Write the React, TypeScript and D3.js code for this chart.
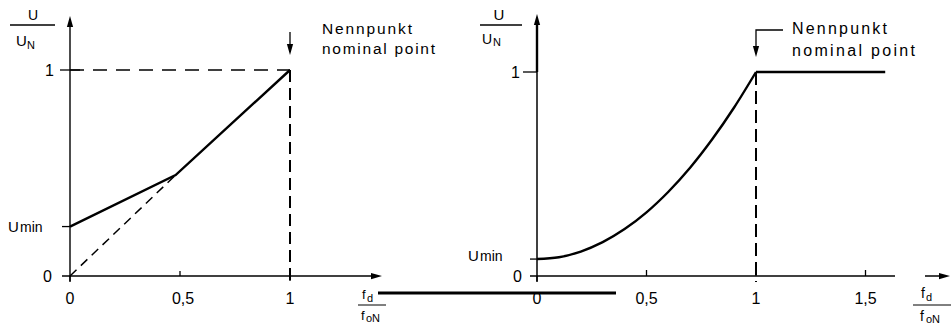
import React from "react";
import * as d3 from "d3";

// Left diagram: linear U/f characteristic with boost at low frequency
const leftF = [0, 0.48, 1];
const leftU = [0.24, 0.49, 1];
const leftRefF = [0, 0.48];
const leftRefU = [0, 0.49];
const leftTicksX = [0, 0.5, 1];
const leftTickLabelsX = ["0", "0,5", "1"];

// Right diagram: quadratic characteristic, then constant voltage above nominal point
const rightF = [0, 0.1, 0.2, 0.3, 0.4, 0.5, 0.6, 0.7, 0.8, 0.9, 1.0];
const rightU = [0.083, 0.092, 0.12, 0.166, 0.23, 0.312, 0.413, 0.532, 0.67, 0.826, 1.0];
const flatF = [1, 1.59];
const flatU = [1, 1];
const rightTicksX = [0, 0.5, 1, 1.5];
const rightTickLabelsX = ["0", "0,5", "1", "1,5"];

const font = "'Liberation Sans', Arial, sans-serif";

function Arrow({ x, y, dir }: { x: number; y: number; dir: "up" | "down" | "right" }) {
  const s = 5, l = 11;
  let pts = "";
  if (dir === "up") pts = `${x},${y} ${x - s / 1.6},${y + l} ${x + s / 1.6},${y + l}`;
  if (dir === "down") pts = `${x},${y} ${x - s / 1.6},${y - l} ${x + s / 1.6},${y - l}`;
  if (dir === "right") pts = `${x},${y} ${x - l},${y - s / 1.6} ${x - l},${y + s / 1.6}`;
  return <polygon points={pts} fill="#000" />;
}

export default function App() {
  const xL = d3.scaleLinear().domain([0, 1]).range([70, 290]);
  const yL = d3.scaleLinear().domain([0, 1]).range([276, 70]);
  const xR = d3.scaleLinear().domain([0, 1]).range([537, 756]);
  const yR = d3.scaleLinear().domain([0, 1]).range([276, 72]);

  const lineL = d3.line<number>().x((_, i) => xL(leftF[i])).y((d) => yL(d));
  const refL = d3.line<number>().x((_, i) => xL(leftRefF[i])).y((d) => yL(d));
  const curveR = d3
    .line<number>()
    .x((_, i) => xR(rightF[i]))
    .y((d) => yR(d))
    .curve(d3.curveCatmullRom);
  const flatR = d3.line<number>().x((_, i) => xR(flatF[i])).y((d) => yR(d));

  const txt = { fontFamily: font, fontSize: 14, fill: "#000" } as const;

  return (
    <svg
      width={951}
      height={325}
      style={{ position: "absolute", left: 0, top: 0, background: "#fff" }}
    >
      {/* ---------- left diagram ---------- */}
      <g>
        {/* y axis */}
        <line x1={xL(0)} y1={yL(0) + 6} x2={xL(0)} y2={22} stroke="#000" strokeWidth={1.4} />
        <Arrow x={xL(0)} y={16} dir="up" />
        {/* x axis */}
        <line x1={62} y1={yL(0)} x2={378} y2={yL(0)} stroke="#000" strokeWidth={1.3} />
        <Arrow x={382} y={yL(0)} dir="right" />
        {/* y ticks */}
        <line x1={60} y1={yL(1)} x2={80} y2={yL(1)} stroke="#000" strokeWidth={1.3} />
        <line x1={62} y1={yL(leftU[0])} x2={xL(0)} y2={yL(leftU[0])} stroke="#000" strokeWidth={1.3} />
        {leftTicksX.map((t, i) => (
          <g key={i}>
            <line x1={xL(t)} y1={yL(0)} x2={xL(t)} y2={yL(0) + (i === 1 ? -5 : 5)} stroke="#000" strokeWidth={1.3} />
            <text x={xL(t) + (i === 1 ? 3 : 0)} y={304} textAnchor="middle" {...txt} fontSize={16}>
              {leftTickLabelsX[i]}
            </text>
          </g>
        ))}
        {/* reference lines to nominal point */}
        <line x1={xL(0)} y1={yL(1)} x2={xL(1)} y2={yL(1)} stroke="#000" strokeWidth={1.5} strokeDasharray="14 9" />
        <line x1={xL(1)} y1={yL(1)} x2={xL(1)} y2={yL(0) + 6} stroke="#000" strokeWidth={2} strokeDasharray="12 6" />
        {/* nominal point marker */}
        <line x1={xL(1)} y1={32} x2={xL(1)} y2={52} stroke="#000" strokeWidth={1.3} />
        <Arrow x={xL(1)} y={55} dir="down" />
        {/* characteristic */}
        <path d={refL(leftRefU) ?? ""} fill="none" stroke="#000" strokeWidth={1.5} strokeDasharray="9 6" />
        <path d={lineL(leftU) ?? ""} fill="none" stroke="#000" strokeWidth={2.4} />
        {/* labels */}
        <text x={33} y={20} textAnchor="middle" {...txt}>U</text>
        <line x1={10} y1={25} x2={55} y2={25} stroke="#000" strokeWidth={1.3} />
        <text x={16} y={46} {...txt} fontSize={15}>U</text>
        <text x={27} y={49} {...txt} fontSize={11}>N</text>
        <text x={54} y={76} textAnchor="end" {...txt} fontSize={16}>1</text>
        <text x={8} y={232} {...txt} fontSize={15}>U</text>
        <text x={20} y={232} {...txt} fontSize={14}>min</text>
        <text x={52} y={282} textAnchor="end" {...txt} fontSize={16}>0</text>
        <text x={322} y={34} {...txt} fontSize={15.5} textLength={90}>Nennpunkt</text>
        <text x={322} y={54} {...txt} fontSize={15.5} textLength={113}>nominal point</text>
        <text x={362} y={299} {...txt} fontSize={13}>f</text>
        <text x={367} y={302} {...txt} fontSize={11}>d</text>
        <line x1={358} y1={305} x2={386} y2={305} stroke="#000" strokeWidth={1} />
        <text x={361} y={320} {...txt} fontSize={13}>f</text>
        <text x={366} y={322} {...txt} fontSize={11}>oN</text>
      </g>

      {/* stray rule between the diagrams */}
      <line x1={378} y1={293} x2={616} y2={293} stroke="#000" strokeWidth={3} />

      {/* ---------- right diagram ---------- */}
      <g>
        {/* y axis */}
        <line x1={xR(0)} y1={yR(0) + 6} x2={xR(0)} y2={22} stroke="#000" strokeWidth={1.5} />
        <line x1={xR(0)} y1={yR(1)} x2={xR(0)} y2={22} stroke="#000" strokeWidth={2.4} />
        <Arrow x={xR(0)} y={14} dir="up" />
        {/* x axis */}
        <line x1={530} y1={yR(0)} x2={895} y2={yR(0)} stroke="#000" strokeWidth={1.3} />
        <line x1={925} y1={yR(0)} x2={944} y2={yR(0)} stroke="#000" strokeWidth={1.5} />
        <Arrow x={950} y={yR(0)} dir="right" />
        {/* y ticks */}
        <line x1={523} y1={yR(1)} x2={xR(0)} y2={yR(1)} stroke="#000" strokeWidth={1.3} />
        <line x1={530} y1={yR(rightU[0])} x2={xR(0)} y2={yR(rightU[0])} stroke="#000" strokeWidth={1.3} />
        {rightTicksX.map((t, i) => (
          <g key={i}>
            <line x1={xR(t)} y1={yR(0)} x2={xR(t)} y2={yR(0) + (t === 0 ? 5 : -6)} stroke="#000" strokeWidth={1.3} />
            <text x={xR(t)} y={304} textAnchor="middle" {...txt} fontSize={16}>
              {rightTickLabelsX[i]}
            </text>
          </g>
        ))}
        {/* nominal frequency line */}
        <line x1={xR(1)} y1={yR(1)} x2={xR(1)} y2={yR(0) + 6} stroke="#000" strokeWidth={2} strokeDasharray="13 6" />
        {/* nominal point marker */}
        <polyline points={`${xR(1)},52 ${xR(1)},30 ${783},30`} fill="none" stroke="#000" strokeWidth={1.3} />
        <Arrow x={xR(1)} y={57} dir="down" />
        {/* characteristic */}
        <path d={curveR(rightU) ?? ""} fill="none" stroke="#000" strokeWidth={2.4} />
        <path d={flatR(flatU) ?? ""} fill="none" stroke="#000" strokeWidth={2.4} />
        {/* labels */}
        <text x={499} y={20} textAnchor="middle" {...txt} fontSize={15}>U</text>
        <line x1={480} y1={25} x2={522} y2={25} stroke="#000" strokeWidth={1.3} />
        <text x={482} y={44} {...txt} fontSize={14}>U</text>
        <text x={493} y={46} {...txt} fontSize={11}>N</text>
        <text x={520} y={78} textAnchor="end" {...txt} fontSize={16}>1</text>
        <text x={468} y={261} {...txt} fontSize={15}>U</text>
        <text x={480} y={261} {...txt} fontSize={14}>min</text>
        <text x={522} y={282} textAnchor="end" {...txt} fontSize={16}>0</text>
        <text x={792} y={34} {...txt} fontSize={16} textLength={95}>Nennpunkt</text>
        <text x={792} y={56} {...txt} fontSize={16} textLength={123}>nominal point</text>
        <text x={921} y={298} {...txt} fontSize={14}>f</text>
        <text x={926} y={301} {...txt} fontSize={11}>d</text>
        <line x1={913} y1={305} x2={951} y2={305} stroke="#000" strokeWidth={1} />
        <text x={920} y={321} {...txt} fontSize={14}>f</text>
        <text x={926} y={323} {...txt} fontSize={11}>oN</text>
      </g>
    </svg>
  );
}
